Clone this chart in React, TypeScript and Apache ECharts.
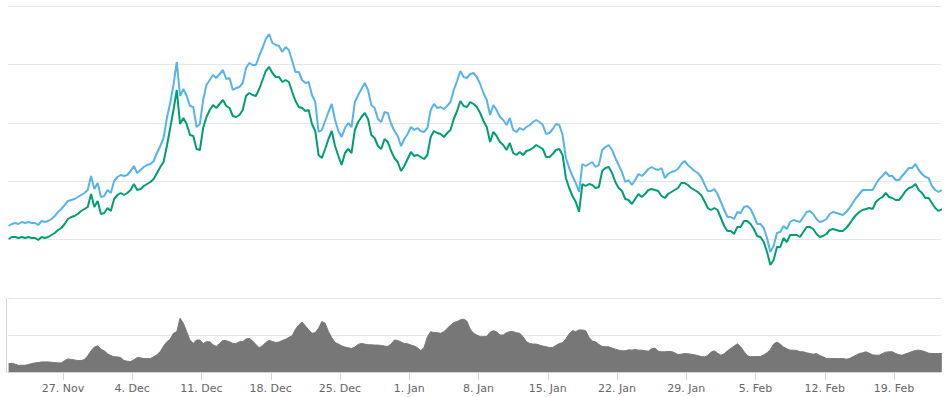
import React, { useEffect, useRef } from "react";
import * as echarts from "echarts";

// Sampling: one value every 8 hours, first sample 5.5 days before 27 Nov (day 0).
const startDay = -5.5;
const stepDay = 1 / 3;

const tickDays = [0, 7, 14, 21, 28, 35, 42, 49, 56, 63, 70, 77, 84];
const tickLabels = ["27. Nov", "4. Dec", "11. Dec", "18. Dec", "25. Dec", "1. Jan", "8. Jan", "15. Jan", "22. Jan", "29. Jan", "5. Feb", "12. Feb", "19. Feb"];

const priceBlue = [
  720, 740, 750, 740, 760, 750, 760, 750, 750, 730,
  770, 760, 770, 790, 820, 860, 890, 930, 970, 980,
  990, 1010, 1030, 1050, 1080, 1220, 1090, 1150, 1010, 1020,
  1080, 1050, 1170, 1210, 1230, 1220, 1230, 1270, 1320, 1250,
  1280, 1310, 1330, 1340, 1370, 1450, 1520, 1600, 1800, 1950,
  2130, 2360, 2020, 2090, 2020, 1920, 1910, 1710, 1740, 1980,
  2130, 2180, 2230, 2200, 2240, 2280, 2190, 2200, 2080, 2100,
  2110, 2150, 2300, 2350, 2330, 2330, 2420, 2500, 2590, 2640,
  2550, 2530, 2520, 2460, 2510, 2480, 2370, 2260, 2260, 2180,
  2150, 2160, 2030, 1960, 1660, 1680, 1770, 1860, 1940, 1780,
  1670, 1610, 1700, 1750, 1710, 1960, 2030, 2090, 2150, 2080,
  1930, 1900, 1790, 1760, 1860, 1850, 1740, 1670, 1620, 1520,
  1590, 1640, 1710, 1680, 1700, 1670, 1660, 1700, 1880, 1940,
  1900, 1910, 1890, 1920, 1960, 2080, 2170, 2270, 2210, 2200,
  2240, 2250, 2210, 2140, 2050, 1980, 1830, 1930, 1880, 1810,
  1780, 1730, 1800, 1680, 1660, 1700, 1680, 1710, 1730, 1760,
  1780, 1760, 1730, 1640, 1650, 1690, 1740, 1730, 1630, 1400,
  1300, 1220, 1150, 1060, 1340, 1320, 1340, 1360, 1310, 1330,
  1480, 1510, 1530, 1480, 1400, 1330, 1260, 1160, 1180, 1130,
  1180, 1240, 1220, 1250, 1290, 1310, 1290, 1280, 1300, 1200,
  1240, 1260, 1270, 1290, 1340, 1370, 1330, 1300, 1270, 1250,
  1210, 1140, 1070, 1070, 1090, 1040, 960, 880, 810, 810,
  790, 860, 850, 910, 920, 890, 820, 740, 740, 700,
  600, 460, 520, 650, 660, 720, 690, 760, 780, 770,
  760, 810, 860, 870, 840, 790, 760, 770, 790, 840,
  860, 850, 840, 830, 860, 900, 950, 1000, 1040, 1080,
  1080, 1080, 1080, 1140, 1190, 1220, 1260, 1220, 1220, 1180,
  1180, 1220, 1260, 1300, 1300, 1340, 1280, 1240, 1210, 1200,
  1120, 1080, 1060, 1080,
];

const priceGreen = [
  590, 610, 610, 600, 610, 600, 610, 600, 600, 580,
  610, 600, 610, 630, 650, 680, 700, 740, 790, 810,
  820, 840, 870, 890, 910, 1040, 910, 970, 840, 850,
  900, 870, 990, 1030, 1050, 1030, 1050, 1080, 1140, 1080,
  1090, 1120, 1140, 1160, 1190, 1250, 1310, 1360, 1520, 1700,
  1880, 2080, 1740, 1800, 1740, 1630, 1620, 1490, 1480, 1700,
  1810, 1880, 1930, 1900, 1940, 1980, 1920, 1900, 1820, 1810,
  1830, 1880, 2020, 2050, 2030, 2020, 2090, 2180, 2270, 2310,
  2250, 2210, 2210, 2160, 2180, 2160, 2060, 1970, 1910, 1900,
  1870, 1880, 1740, 1670, 1430, 1400, 1490, 1590, 1670, 1520,
  1420, 1330, 1450, 1490, 1450, 1680, 1760, 1810, 1850, 1790,
  1630, 1600, 1520, 1490, 1590, 1560, 1470, 1400, 1360, 1270,
  1320, 1390, 1460, 1420, 1430, 1410, 1390, 1430, 1610, 1670,
  1650, 1640, 1610, 1650, 1680, 1790, 1870, 1970, 1920, 1910,
  1960, 1940, 1910, 1850, 1770, 1710, 1560, 1660, 1620, 1560,
  1530, 1480, 1550, 1450, 1430, 1460, 1430, 1470, 1480, 1500,
  1530, 1510, 1490, 1410, 1410, 1440, 1480, 1490, 1430, 1200,
  1100, 1020, 960, 860, 1140, 1120, 1140, 1130, 1100, 1110,
  1270, 1300, 1310, 1250, 1160, 1100, 1070, 990, 980, 940,
  990, 1040, 1010, 1040, 1080, 1090, 1080, 1070, 1020, 1000,
  1040, 1060, 1080, 1100, 1150, 1150, 1130, 1100, 1080, 1060,
  1030, 970, 900, 880, 900, 880, 800, 720, 670, 670,
  640, 710, 710, 770, 770, 740, 690, 620, 610, 560,
  460, 330, 380, 510, 510, 600, 560, 630, 630, 630,
  610, 660, 710, 710, 690, 640, 610, 620, 640, 680,
  690, 680, 670, 670, 700, 740, 790, 830, 860, 880,
  890, 900, 890, 960, 990, 1010, 1050, 1010, 1000, 980,
  980, 1020, 1070, 1100, 1110, 1140, 1080, 1050, 1000, 1000,
  950, 900, 870, 890,
];

const volume = [
  250, 260, 230, 200, 200, 200, 220, 250, 270, 280,
  300, 300, 300, 290, 280, 270, 270, 340, 390, 370,
  360, 340, 340, 370, 480, 630, 740, 780, 680, 630,
  540, 490, 450, 450, 430, 340, 320, 310, 360, 430,
  420, 400, 400, 400, 450, 510, 610, 770, 900, 970,
  1150, 1200, 1600, 1450, 1200, 950, 850, 950, 950, 850,
  900, 900, 810, 760, 850, 940, 930, 900, 850, 850,
  900, 900, 980, 1000, 920, 820, 720, 780, 880, 940,
  910, 880, 890, 940, 970, 1030, 1080, 1270, 1400, 1490,
  1370, 1250, 1150, 1170, 1300, 1500, 1450, 1200, 1020, 880,
  830, 780, 740, 720, 700, 740, 820, 850, 830, 810,
  810, 800, 800, 790, 770, 760, 830, 950, 940, 890,
  850, 840, 800, 770, 720, 640, 730, 1050, 1200, 1170,
  1170, 1150, 1200, 1290, 1390, 1470, 1500, 1550, 1570, 1510,
  1270, 1150, 1100, 1050, 1050, 1060, 1180, 1230, 1190, 1100,
  1100, 1170, 1200, 1200, 1170, 1150, 1050, 900, 850, 830,
  830, 800, 770, 750, 730, 730, 790, 850, 870, 990,
  1130, 1230, 1200, 1250, 1250, 1230, 1030, 920, 900, 820,
  760, 750, 750, 710, 680, 650, 630, 630, 660, 650,
  670, 650, 650, 630, 620, 690, 710, 620, 600, 600,
  610, 610, 570, 520, 530, 550, 540, 530, 510, 490,
  460, 450, 490, 590, 630, 560, 500, 540, 630, 700,
  770, 840, 750, 610, 490, 450, 460, 460, 460, 510,
  570, 670, 830, 890, 830, 740, 690, 650, 650, 640,
  600, 600, 570, 550, 530, 550, 490, 450, 400, 400,
  400, 400, 400, 400, 380, 400, 450, 500, 550, 570,
  600, 560, 510, 500, 500, 550, 590, 600, 600, 550,
  510, 500, 540, 570, 610, 640, 650, 630, 600, 560,
  550, 550, 550, 550,
];

const toXY = (arr: number[]) => arr.map((v, i) => [startDay + i * stepDay, v]);

export default function App() {
  const ref = useRef<HTMLDivElement>(null);
  useEffect(() => {
    if (!ref.current) return;
    const chart = echarts.init(ref.current, null, { renderer: "svg" });
    const xMin = -5.56;
    const xMax = 88.75;
    const labelFont = { color: "#666666", fontSize: 11, fontFamily: "DejaVu Sans, Verdana, sans-serif" };
    chart.setOption({
      animation: false,
      backgroundColor: "#ffffff",
      grid: [
        { left: 8, right: 5, top: 6, height: 292 },
        { left: 8, right: 5, top: 298, height: 74 },
      ],
      xAxis: [
        { type: "value", gridIndex: 0, min: xMin, max: xMax, show: false, splitLine: { show: false } },
        {
          type: "value",
          gridIndex: 1,
          min: xMin,
          max: xMax,
          splitLine: { show: false },
          axisLine: { show: true, onZero: false, lineStyle: { color: "#ccd6eb", width: 1 } },
          axisTick: { show: true, customValues: tickDays, length: 8, lineStyle: { color: "#ccd6eb" } },
          axisLabel: {
            show: true,
            customValues: tickDays,
            margin: 11,
            ...labelFont,
            formatter: (v: number) => tickLabels[Math.round(v / 7)] ?? "",
          },
        },
      ],
      yAxis: [
        {
          type: "value",
          gridIndex: 0,
          min: 0,
          max: 2920,
          interval: 584,
          axisLabel: { show: false },
          axisLine: { show: false },
          axisTick: { show: false },
          splitLine: { show: true, lineStyle: { color: "#e6e6e6", width: 1 } },
        },
        {
          type: "value",
          gridIndex: 1,
          min: 0,
          max: 2200,
          interval: 1100,
          offset: 2,
          axisLabel: { show: false },
          axisLine: { show: true, onZero: false, lineStyle: { color: "#ccd6eb", width: 1 } },
          axisTick: { show: false },
          splitLine: { show: true, lineStyle: { color: "#e6e6e6", width: 1 } },
        },
      ],
      series: [
        {
          name: "Blue",
          type: "line",
          xAxisIndex: 0,
          yAxisIndex: 0,
          data: toXY(priceBlue),
          showSymbol: false,
          lineStyle: { color: "#56b4e9", width: 2 },
          itemStyle: { color: "#56b4e9" },
        },
        {
          name: "Green",
          type: "line",
          xAxisIndex: 0,
          yAxisIndex: 0,
          data: toXY(priceGreen),
          showSymbol: false,
          lineStyle: { color: "#009e73", width: 2 },
          itemStyle: { color: "#009e73" },
        },
        {
          name: "Volume",
          type: "line",
          xAxisIndex: 1,
          yAxisIndex: 1,
          data: toXY(volume),
          showSymbol: false,
          lineStyle: { color: "#777777", width: 1 },
          itemStyle: { color: "#777777" },
          areaStyle: { color: "#777777", opacity: 1 },
        },
      ],
    });
    return () => chart.dispose();
  }, []);
  return (
    <div
      ref={ref}
      style={{ position: "absolute", left: 0, top: 0, width: 946, height: 397, background: "#ffffff" }}
    />
  );
}
